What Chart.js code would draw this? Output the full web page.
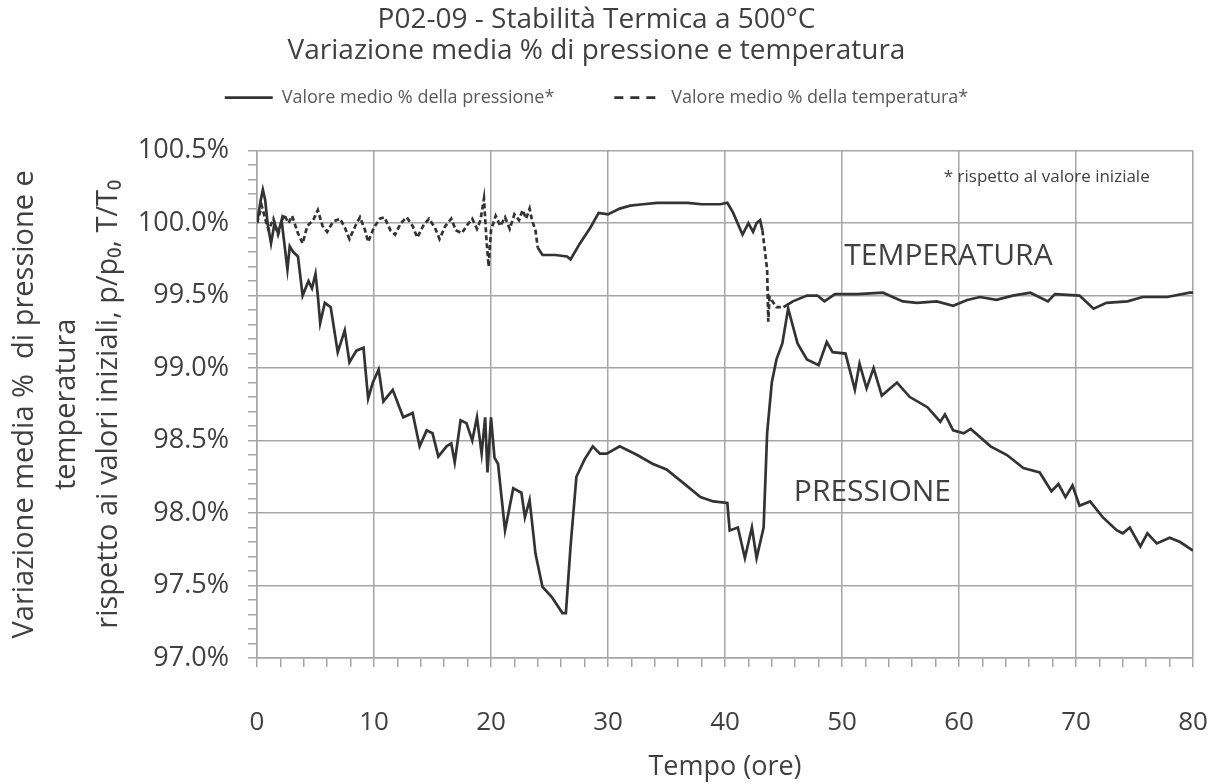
<!DOCTYPE html>
<html>
<head>
<meta charset="utf-8">
<title>P02-09 - Stabilità Termica a 500°C</title>
<script src="https://cdn.jsdelivr.net/npm/chart.js@4.4.1/dist/chart.umd.min.js"></script>
<style>
  html, body { margin: 0; padding: 0; background: #fff; }
  canvas { display: block; }
</style>
</head>
<body>
<canvas id="grafico" width="1213" height="784"></canvas>
<script>
// tempo (ore) e valore medio % della pressione
const pressTime = [0, 0.3, 0.5, 0.7, 0.9, 1.2, 1.5, 1.8, 2.1, 2.6, 2.8, 3.1, 3.5, 3.9, 4.4, 4.7, 5.0, 5.2, 5.4, 5.8,
  6.3, 6.9, 7.5, 7.9, 8.5, 9.1, 9.5, 9.9, 10.4, 10.8, 11.6, 12.5, 13.3, 13.9, 14.5, 15.0, 15.5, 16.2, 16.6, 16.9,
  17.4, 17.9, 18.4, 18.8, 19.2, 19.5, 19.7, 20.0, 20.3, 20.6, 21.2, 21.9, 22.6, 22.9, 23.3, 23.8, 24.4, 25.2, 26.1, 26.4,
  26.8, 27.3, 28.0, 28.7, 29.3, 29.9, 31.0, 32.5, 33.8, 35.0, 36.4, 37.9, 39.0, 40.2, 40.4, 41.1, 41.7, 42.3, 42.7, 43.3,
  43.6, 44.0, 44.4, 44.9, 45.4, 46.2, 47.0, 48.0, 48.7, 49.2, 50.3, 51.1, 51.5, 52.1, 52.7, 53.4, 54.7, 55.8, 57.3, 58.4,
  58.8, 59.5, 60.4, 61.0, 62.7, 64.1, 65.5, 66.9, 67.9, 68.5, 69.1, 69.7, 70.3, 71.2, 72.3, 73.5, 74.0, 74.6, 75.5, 76.1,
  76.9, 78.0, 78.9, 80.0];
const pressVal = [100.00, 100.15, 100.23, 100.16, 100.00, 99.86, 100.00, 99.93, 100.02, 99.68, 99.84, 99.80, 99.77, 99.50, 99.60, 99.55, 99.65, 99.50, 99.31, 99.45,
  99.42, 99.11, 99.26, 99.04, 99.12, 99.14, 98.79, 98.90, 98.99, 98.77, 98.85, 98.66, 98.69, 98.46, 98.57, 98.55, 98.39, 98.46, 98.48, 98.35,
  98.64, 98.62, 98.50, 98.66, 98.41, 98.66, 98.28, 98.66, 98.38, 98.34, 97.88, 98.17, 98.14, 97.97, 98.09, 97.72, 97.49, 97.42, 97.31, 97.31,
  97.77, 98.25, 98.37, 98.46, 98.41, 98.41, 98.46, 98.40, 98.34, 98.30, 98.21, 98.11, 98.08, 98.07, 97.88, 97.90, 97.69, 97.90, 97.69, 97.90,
  98.55, 98.90, 99.06, 99.17, 99.41, 99.17, 99.06, 99.02, 99.18, 99.11, 99.10, 98.85, 99.03, 98.86, 99.00, 98.81, 98.90, 98.80, 98.73, 98.63,
  98.68, 98.57, 98.55, 98.58, 98.46, 98.40, 98.31, 98.28, 98.15, 98.20, 98.11, 98.19, 98.05, 98.08, 97.97, 97.88, 97.86, 97.90, 97.77, 97.86,
  97.79, 97.83, 97.80, 97.74];

// tempo (ore) e valore medio % della temperatura
const tempTime = [0, 0.4, 0.8, 1.0, 1.4, 1.8, 2.3, 2.7, 3.0, 3.5, 3.9, 4.3, 4.8, 5.2, 5.6, 6.0, 6.5, 7.1, 7.5, 7.9,
  8.4, 8.8, 9.2, 9.5, 10.0, 10.5, 10.9, 11.4, 11.8, 12.3, 12.8, 13.3, 13.7, 14.2, 14.7, 15.2, 15.6, 16.1, 16.6, 17.0,
  17.5, 18.0, 18.4, 18.8, 19.1, 19.4, 19.6, 19.8, 20.0, 20.4, 20.8, 21.2, 21.6, 22.0, 22.4, 22.7, 23.0, 23.3, 23.5, 23.8,
  24.0, 24.4, 25.5, 26.5, 26.8, 27.6, 28.5, 29.2, 30.0, 31.0, 31.9, 33.0, 34.2, 35.5, 36.8, 38.0, 39.6, 40.2, 40.7, 41.5,
  42.0, 42.4, 42.7, 43.0, 43.2, 43.6, 43.7, 43.8, 44.4, 45.0, 45.8, 47.0, 47.9, 48.5, 49.4, 51.3, 53.5, 55.2, 56.4, 58.1,
  59.5, 60.7, 61.8, 63.2, 64.6, 66.1, 67.6, 68.2, 70.3, 71.5, 72.6, 74.4, 75.7, 77.8, 79.7, 80.0];
const tempVal = [100.00, 100.12, 100.00, 99.95, 100.03, 99.92, 100.06, 100.00, 100.05, 99.93, 99.86, 99.98, 100.02, 100.09, 99.98, 99.94, 100.01, 100.03, 99.97, 99.89,
  99.98, 100.04, 99.96, 99.87, 99.97, 100.03, 100.04, 99.95, 99.92, 100.00, 100.04, 99.98, 99.90, 99.98, 100.03, 99.97, 99.89, 99.98, 100.03, 99.95,
  99.93, 99.99, 100.03, 99.96, 100.02, 100.17, 99.90, 99.70, 99.95, 100.05, 99.98, 100.04, 99.96, 100.06, 100.02, 100.09, 100.03, 100.10, 100.02, 99.95,
  99.83, 99.78, 99.78, 99.77, 99.75, 99.86, 99.97, 100.07, 100.06, 100.10, 100.12, 100.13, 100.14, 100.14, 100.14, 100.13, 100.13, 100.14, 100.07, 99.92,
  100.00, 99.94, 100.00, 100.02, 99.95, 99.68, 99.32, 99.49, 99.42, 99.42, 99.46, 99.50, 99.50, 99.46, 99.51, 99.51, 99.52, 99.46, 99.45, 99.46,
  99.43, 99.47, 99.49, 99.47, 99.50, 99.52, 99.46, 99.51, 99.50, 99.41, 99.45, 99.46, 99.49, 99.49, 99.52, 99.52];

// tratti in cui la curva della temperatura appare tratteggiata
const tempDashedRanges = [[0, 23.9], [43.1, 44.5]];

// assi
const xTickValues = [0, 10, 20, 30, 40, 50, 60, 70, 80];
const xTickLabels = ["0", "10", "20", "30", "40", "50", "60", "70", "80"];
const yTickValues = [97.0, 97.5, 98.0, 98.5, 99.0, 99.5, 100.0, 100.5];
const yTickLabels = ["97.0%", "97.5%", "98.0%", "98.5%", "99.0%", "99.5%", "100.0%", "100.5%"];

const FONT = "'Open Sans', 'Noto Sans', sans-serif";
const lineColor = "#333333";
const gridColor = "#a6a6a6";
const textColor = "#404040";
const legendDash = [[], [9, 7]];

const toPoints = (xs, ys) => xs.map((x, i) => ({ x: x, y: ys[i] }));
const isDashed = t => tempDashedRanges.some(r => t >= r[0] && t < r[1]);
const isMajorY = v => yTickValues.some(m => Math.abs(m - v) < 1e-6);

// legenda: altezza fissa e spostata verso il titolo
const legendPlace = {
    id: "legendPlace",
    beforeInit(chart) {
        const fit = chart.legend.fit;
        chart.legend.fit = function () {
            fit.call(this);
            this.height = 80;
        };
    },
    afterLayout(chart) {
        const lg = chart.legend;
        lg.top -= 42;
        lg.bottom -= 42;
    }
};

const note = {
    id: "note",
    afterDatasetsDraw(chart) {
        const { ctx, scales: { x, y } } = chart;
        ctx.save();
        ctx.fillStyle = textColor;
        ctx.textAlign = "center";
        ctx.textBaseline = "middle";
        ctx.font = "30px " + FONT;
        ctx.fillText("TEMPERATURA", x.getPixelForValue(59.1), y.getPixelForValue(99.77));
        ctx.fillText("PRESSIONE", x.getPixelForValue(52.6), y.getPixelForValue(98.14));
        ctx.font = "17px " + FONT;
        ctx.fillText("* rispetto al valore iniziale", x.getPixelForValue(67.5), y.getPixelForValue(100.32));
        ctx.restore();
    }
};

new Chart(document.getElementById("grafico"), {
    type: "line",
    data: {
        datasets: [{
            label: "Valore medio % della pressione*",
            data: toPoints(pressTime, pressVal),
            borderColor: lineColor,
            backgroundColor: lineColor,
            borderWidth: 2.7,
            pointRadius: 0,
            tension: 0
        }, {
            label: "Valore medio % della temperatura*",
            data: toPoints(tempTime, tempVal),
            borderColor: lineColor,
            backgroundColor: lineColor,
            borderWidth: 2.7,
            borderDash: [5, 3],
            pointRadius: 0,
            tension: 0,
            segment: {
                borderDash: ctx => isDashed(ctx.p0.parsed.x) ? [5, 3] : []
            }
        }]
    },
    options: {
        responsive: false,
        animation: false,
        devicePixelRatio: 1,
        layout: { padding: { left: 0, right: 20, top: 0, bottom: 0 } },
        plugins: {
            title: {
                display: true,
                text: ["P02-09 - Stabilità Termica a 500°C", "Variazione media % di pressione e temperatura"],
                color: textColor,
                font: { family: FONT, size: 28, weight: "normal", lineHeight: 1.1 },
                padding: { top: 5, bottom: 4 }
            },
            legend: {
                position: "top",
                labels: {
                    color: "#595959",
                    font: { family: FONT, size: 18 },
                    usePointStyle: true,
                    pointStyleWidth: 48,
                    padding: 60,
                    generateLabels: chart => {
                        const items = Chart.defaults.plugins.legend.labels.generateLabels(chart);
                        items.forEach((it, i) => {
                            it.pointStyle = "line";
                            it.lineDash = legendDash[i];
                            it.lineWidth = 2.7;
                            it.strokeStyle = lineColor;
                        });
                        return items;
                    }
                }
            },
            tooltip: { enabled: false }
        },
        scales: {
            x: {
                type: "linear",
                min: 0,
                max: 80,
                afterFit: s => {
                    s.height = 126;
                    s.paddingLeft = 0;
                    s.paddingRight = 0;
                },
                afterBuildTicks: s => {
                    const ticks = [];
                    for (let v = 0; v <= 80; v += 2) ticks.push({ value: v });
                    s.ticks = ticks;
                },
                ticks: {
                    autoSkip: false,
                    maxRotation: 0,
                    padding: 40,
                    color: textColor,
                    font: { family: FONT, size: 26 },
                    callback: v => {
                        const i = xTickValues.indexOf(v);
                        return i >= 0 ? xTickLabels[i] : "";
                    }
                },
                grid: {
                    color: c => (c.tick && xTickValues.includes(c.tick.value)) ? gridColor : "rgba(0,0,0,0)",
                    tickColor: gridColor,
                    tickLength: 9,
                    lineWidth: 1.5
                },
                border: { color: gridColor, width: 1.5 },
                title: {
                    display: true,
                    text: "Tempo (ore)",
                    color: textColor,
                    font: { family: FONT, size: 27 },
                    padding: { top: 0, bottom: 0 }
                }
            },
            y: {
                type: "linear",
                min: 97,
                max: 100.5,
                afterFit: s => { s.width = 257; },
                afterBuildTicks: s => {
                    const ticks = [];
                    for (let i = 970; i <= 1005; i++) ticks.push({ value: i / 10 });
                    s.ticks = ticks;
                },
                ticks: {
                    autoSkip: false,
                    padding: 19,
                    color: textColor,
                    font: { family: FONT, size: 27 },
                    callback: v => {
                        const i = yTickValues.findIndex(m => Math.abs(m - v) < 1e-6);
                        return i >= 0 ? yTickLabels[i] : "";
                    }
                },
                grid: {
                    color: c => (c.tick && isMajorY(c.tick.value)) ? gridColor : "rgba(0,0,0,0)",
                    tickColor: gridColor,
                    tickLength: 9,
                    lineWidth: 1.5
                },
                border: { color: gridColor, width: 1.5 },
                title: {
                    display: true,
                    text: ["Variazione media %  di pressione e", "temperatura", "rispetto ai valori iniziali, p/p\u2080, T/T\u2080"],
                    color: textColor,
                    font: { family: FONT, size: 29, lineHeight: 1.45 },
                    padding: { top: 4, bottom: 0 }
                }
            }
        }
    },
    plugins: [legendPlace, note]
});
</script>
</body>
</html>
